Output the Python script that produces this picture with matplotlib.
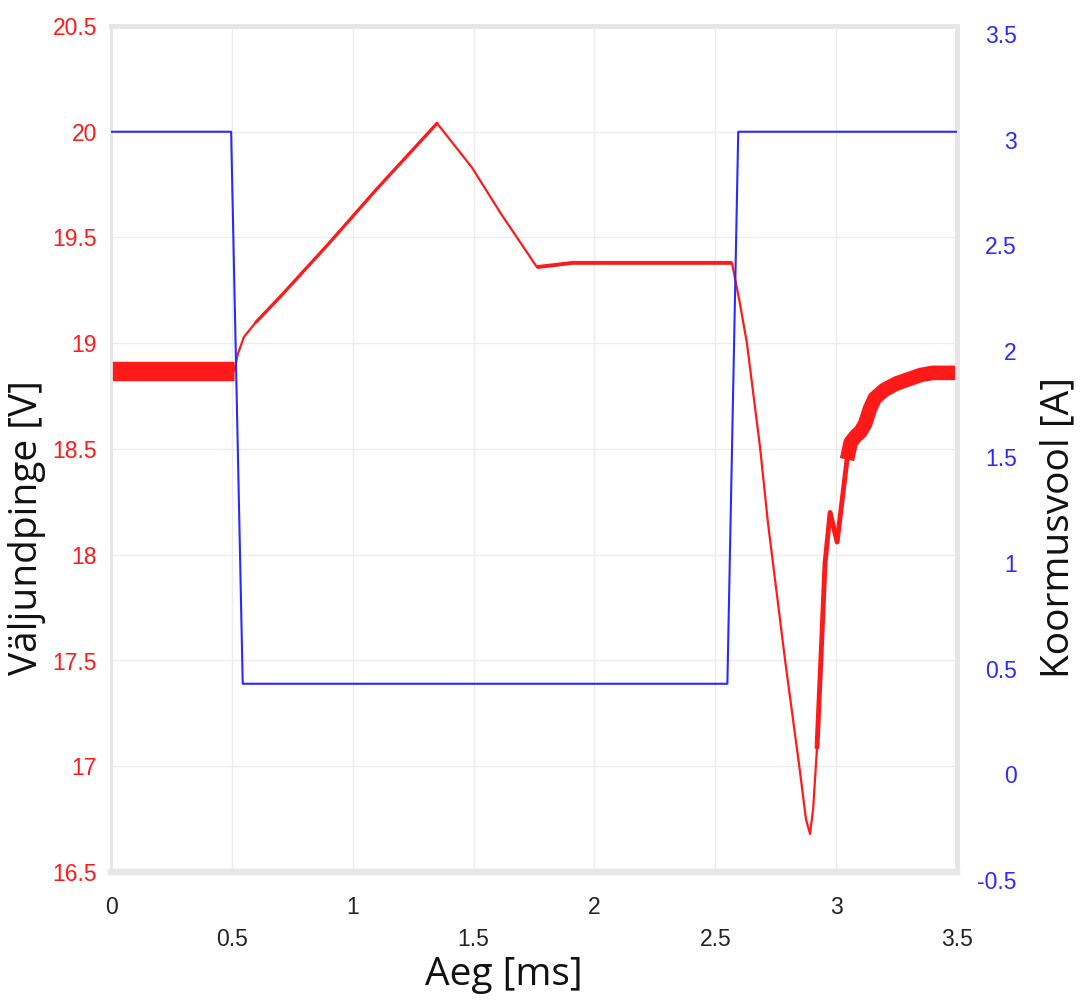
import matplotlib
matplotlib.use("Agg")
import matplotlib.pyplot as plt
import matplotlib.transforms as mtransforms
import numpy as np

# time axis [ms] for the load current (blue)
t_cur = [0.0, 0.497, 0.545, 2.55, 2.595, 3.5]
cur = [3.0, 3.0, 0.39, 0.39, 3.0, 3.0]

# output voltage (red)
t_volt = [0.0, 0.51, 0.525, 0.55, 0.60, 0.70, 0.90, 1.10, 1.349, 1.494, 1.609, 1.762,
          1.91, 2.20, 2.569, 2.60, 2.631, 2.685, 2.718, 2.789, 2.851, 2.875, 2.892,
          2.905, 2.921, 2.942, 2.954, 2.975, 3.004, 3.045, 3.06, 3.08, 3.10, 3.12,
          3.14, 3.16, 3.20, 3.25, 3.30, 3.35, 3.40, 3.5]
volt = [18.87, 18.87, 18.95, 19.03, 19.10, 19.22, 19.47, 19.73, 20.04, 19.83, 19.62, 19.36,
        19.38, 19.38, 19.38, 19.20, 19.00, 18.51, 18.15, 17.50, 16.97, 16.75, 16.68,
        16.80, 17.09, 17.64, 17.96, 18.20, 18.06, 18.45, 18.53, 18.56, 18.58, 18.62,
        18.69, 18.74, 18.78, 18.81, 18.83, 18.85, 18.86, 18.86]

v_ticks = [16.5, 17, 17.5, 18, 18.5, 19, 19.5, 20, 20.5]
v_labels = ["16.5", "17", "17.5", "18", "18.5", "19", "19.5", "20", "20.5"]
i_ticks = [-0.5, 0, 0.5, 1, 1.5, 2, 2.5, 3, 3.5]
i_labels = ["-0.5", "0", "0.5", "1", "1.5", "2", "2.5", "3", "3.5"]
x_major = [0, 1, 2, 3]
x_major_labels = ["0", "1", "2", "3"]
x_minor = [0.5, 1.5, 2.5, 3.5]
x_minor_labels = ["0.5", "1.5", "2.5", "3.5"]

RED = "#ff1a1a"
BLUE = "#2a2aff"
FRAME = "#e6e6e6"
GRID = "#ececec"

fig = plt.figure(figsize=(10.82, 10.05), dpi=100)
ax = fig.add_axes([111 / 1082, 1 - 872 / 1005, 846 / 1082, 846 / 1005])
ax2 = ax.twinx()

ax.set_xlim(0, 3.5)
ax.set_ylim(16.5, 20.5)
ax2.set_ylim(-0.5, 3.5)

# grid
ax.set_xticks(x_major, x_major_labels)
ax.set_xticks(x_minor, x_minor_labels, minor=True)
ax.set_yticks(v_ticks, v_labels)
ax2.set_yticks(i_ticks, i_labels)
ax.grid(True, which="both", color=GRID, linewidth=1.0)
ax.set_axisbelow(True)

# frame
for a in (ax, ax2):
    for side, w in (("left", 2.0), ("top", 3.5), ("right", 3.5), ("bottom", 4.5)):
        a.spines[side].set_color(FRAME)
        a.spines[side].set_linewidth(w)

# red voltage trace, thick parts where the ripple is visible
tv = np.array(t_volt)
vv = np.array(volt)
ax.plot(tv, vv, color=RED, linewidth=1.6, solid_joinstyle="round", zorder=3)
m = tv <= 0.51
ax.plot(tv[m], vv[m], color=RED, linewidth=14, solid_capstyle="butt", zorder=3)
m = (tv >= 0.6) & (tv <= 1.349)
ax.plot(tv[m], vv[m], color=RED, linewidth=2.3, solid_capstyle="round", zorder=3)
m = (tv >= 1.76) & (tv <= 2.569)
ax.plot(tv[m], vv[m], color=RED, linewidth=2.8, solid_capstyle="butt", zorder=3)
m = (tv >= 2.92) & (tv <= 3.06)
ax.plot(tv[m], vv[m], color=RED, linewidth=3.5, solid_capstyle="round",
        solid_joinstyle="round", zorder=3)
m = tv >= 3.045
ax.plot(tv[m], vv[m], color=RED, linewidth=10.5, solid_capstyle="butt",
        solid_joinstyle="round", zorder=3)

# blue current trace
ax2.plot(t_cur, cur, color=BLUE, linewidth=1.5, zorder=4)

tick_font = dict(family="Liberation Sans", size=16.5)
ax.tick_params(axis="both", which="both", length=0)
ax2.tick_params(axis="y", length=0)
ax.tick_params(axis="x", which="major", pad=17, colors="#222222")
ax.tick_params(axis="x", which="minor", pad=40, colors="#222222")
ax.tick_params(axis="y", pad=10, colors=RED)
ax2.tick_params(axis="y", pad=43, colors=BLUE)
for lab in ax.get_xticklabels(which="both") + ax.get_yticklabels() + ax2.get_yticklabels():
    lab.set_fontfamily(tick_font["family"])
    lab.set_fontsize(tick_font["size"])
shift = mtransforms.ScaledTranslation(0, -8 / 100, fig.dpi_scale_trans)
for lab in ax2.get_yticklabels():
    lab.set_horizontalalignment("right")
    lab.set_transform(lab.get_transform() + shift)

label_font = dict(family="Open Sans", size=28, color="#111111")
ax.set_xlabel("Aeg [ms]", va="center", **label_font)
ax.xaxis.set_label_coords((504 - 111) / 846, (872 - 975) / 846)
ax.set_ylabel("Väljundpinge [V]", va="center", **label_font)
ax.yaxis.set_label_coords((27 - 111) / 846, (872 - 528) / 846)
ax2.set_ylabel("Koormusvool [A]", va="center", rotation=90, **label_font)
ax2.yaxis.set_label_coords((1058 - 111) / 846, (872 - 527) / 846)

fig.savefig("out.png", dpi=100)
